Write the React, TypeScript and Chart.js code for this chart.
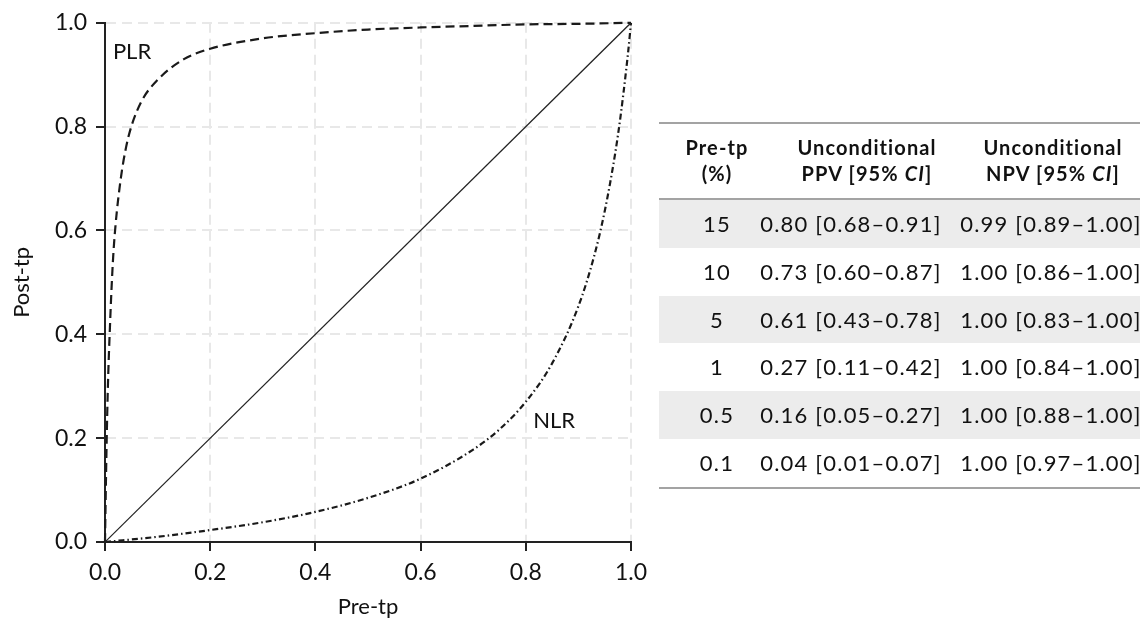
import React, { useEffect, useRef } from 'react';
import { Chart, registerables } from 'chart.js';

Chart.register(...registerables);

// ---- Data ----
const axisTicks = [0, 0.2, 0.4, 0.6, 0.8, 1.0];

const diagPre = [0, 1];
const diagPost = [0, 1];

const plrPre = [0, 0.002, 0.005, 0.01, 0.015, 0.02, 0.03, 0.04, 0.05, 0.07, 0.1, 0.15, 0.2, 0.3, 0.4, 0.5, 0.6, 0.7, 0.8, 0.9, 1.0];
const plrPost = [0, 0.13, 0.28, 0.43, 0.54, 0.61, 0.7, 0.76, 0.8, 0.85, 0.89, 0.93, 0.95, 0.97, 0.98, 0.987, 0.991, 0.994, 0.997, 0.998, 1.0];

const nlrPre = [0, 0.1, 0.2, 0.3, 0.4, 0.5, 0.6, 0.7, 0.75, 0.8, 0.85, 0.9, 0.93, 0.95, 0.97, 0.98, 0.99, 0.995, 1.0];
const nlrPost = [0, 0.01, 0.023, 0.038, 0.058, 0.085, 0.122, 0.178, 0.217, 0.27, 0.344, 0.454, 0.551, 0.637, 0.749, 0.819, 0.902, 0.948, 1.0];

const curveNames = ['PLR', 'NLR'];
const curveLabelAt = [
  { x: 0.015, y: 0.943 },
  { x: 0.814, y: 0.234 },
];

const tableHeadPre = ['Pre-tp', '(%)'];
const tablePre = ['15', '10', '5', '1', '0.5', '0.1'];
const tablePPV = ['0.80 [0.68–0.91]', '0.73 [0.60–0.87]', '0.61 [0.43–0.78]', '0.27 [0.11–0.42]', '0.16 [0.05–0.27]', '0.04 [0.01–0.07]'];
const tableNPV = ['0.99 [0.89–1.00]', '1.00 [0.86–1.00]', '1.00 [0.83–1.00]', '1.00 [0.84–1.00]', '1.00 [0.88–1.00]', '1.00 [0.97–1.00]'];

const FONT = 'Lato, "Open Sans", sans-serif';
const INK = '#111111';

const toPoints = (xs: number[], ys: number[]) => xs.map((x, i) => ({ x, y: ys[i] }));

const labelPlugin = {
  id: 'curveLabels',
  afterDatasetsDraw(chart: any) {
    const { ctx, scales } = chart;
    ctx.save();
    ctx.font = `22px ${FONT}`;
    ctx.fillStyle = INK;
    ctx.textAlign = 'left';
    ctx.textBaseline = 'middle';
    curveNames.forEach((name, i) => {
      ctx.fillText(name, scales.x.getPixelForValue(curveLabelAt[i].x), scales.y.getPixelForValue(curveLabelAt[i].y));
    });
    ctx.restore();
  },
};

function axisCommon(pad: number) {
  return {
    type: 'linear' as const,
    min: 0,
    max: 1,
    afterBuildTicks: (scale: any) => {
      scale.ticks = axisTicks.map((v) => ({ value: v }));
    },
    ticks: {
      padding: pad,
      color: INK,
      font: { family: FONT, size: 23 },
      callback: (v: any) => Number(v).toFixed(1),
      maxRotation: 0,
      autoSkip: false,
    },
    grid: {
      color: '#e8e8e8',
      lineWidth: 2,
      tickColor: '#222',
      tickWidth: 2,
      tickLength: 9,
    },
    border: { color: '#222', width: 2, dash: [10, 6] },
  };
}

function PlotChart() {
  const ref = useRef<HTMLCanvasElement>(null);
  useEffect(() => {
    const chart = new Chart(ref.current as HTMLCanvasElement, {
      type: 'line',
      data: {
        datasets: [
          {
            label: 'Diagonal',
            data: toPoints(diagPre, diagPost),
            borderColor: '#222',
            borderWidth: 1.2,
            pointRadius: 0,
            fill: false,
          },
          {
            label: 'PLR',
            data: toPoints(plrPre, plrPost),
            borderColor: '#1a1a1a',
            borderWidth: 2.2,
            borderDash: [9, 5],
            pointRadius: 0,
            cubicInterpolationMode: 'monotone',
            fill: false,
            clip: 6,
          },
          {
            label: 'NLR',
            data: toPoints(nlrPre, nlrPost),
            borderColor: '#1a1a1a',
            borderWidth: 2.2,
            borderDash: [6, 3, 1.5, 3],
            pointRadius: 0,
            cubicInterpolationMode: 'monotone',
            fill: false,
            clip: 6,
          },
        ] as any,
      },
      options: {
        animation: false,
        responsive: false,
        devicePixelRatio: 1,
        layout: { padding: { left: 0, top: 16, right: 29, bottom: 0 } },
        plugins: { legend: { display: false }, tooltip: { enabled: false } },
        scales: {
          x: {
            ...axisCommon(8),
            afterFit: (s: any) => {
              s.height = 83;
            },
            title: {
              display: true,
              text: 'Pre-tp',
              color: INK,
              font: { family: FONT, size: 22 },
              padding: { top: 0, bottom: 5 },
            },
          },
          y: {
            ...axisCommon(9),
            afterFit: (s: any) => {
              s.width = 105;
            },
            title: {
              display: true,
              text: 'Post-tp',
              color: INK,
              font: { family: FONT, size: 22 },
              padding: { top: 9, bottom: 0 },
            },
          },
        } as any,
      },
      plugins: [labelPlugin],
    });
    return () => chart.destroy();
  }, []);
  return <canvas ref={ref} width={660} height={625} style={{ display: 'block' }} />;
}

const ROW_H = 47.8;
const ROW_TOP = 78;

function Cell(props: { cx: number; top: number; h: number; children: any; bold?: boolean }) {
  return (
    <div
      style={{
        position: 'absolute',
        left: props.cx - 150,
        width: 300,
        top: props.top,
        height: props.h,
        lineHeight: `${props.h}px`,
        textAlign: 'center',
        fontFamily: FONT,
        fontWeight: props.bold ? 700 : 400,
        fontSize: props.bold ? 20 : 22,
        letterSpacing: props.bold ? '1.1px' : '1.2px',
        color: INK,
        whiteSpace: 'nowrap',
      }}
    >
      {props.children}
    </div>
  );
}

function ResultTable() {
  const c1 = 58;
  const c2h = 208;
  const c2d = 192;
  const c3h = 394;
  const c3d = 392;
  return (
    <div style={{ position: 'absolute', left: 659, top: 122, width: 481, height: 370 }}>
      <div style={{ position: 'absolute', left: 0, top: 0, width: 481, height: 2, background: '#a3a3a3' }} />
      <Cell cx={c1} top={12} h={26} bold>{tableHeadPre[0]}</Cell>
      <Cell cx={c1} top={38} h={26} bold>{tableHeadPre[1]}</Cell>
      <Cell cx={c2h} top={12} h={26} bold>Unconditional</Cell>
      <Cell cx={c2h} top={38} h={26} bold>
        PPV [95% <i>CI</i>]
      </Cell>
      <Cell cx={c3h} top={12} h={26} bold>Unconditional</Cell>
      <Cell cx={c3h} top={38} h={26} bold>
        NPV [95% <i>CI</i>]
      </Cell>
      <div style={{ position: 'absolute', left: 0, top: 76, width: 481, height: 2.5, background: '#a3a3a3' }} />
      {tablePre.map((p, i) => (
        <div key={p}>
          {i % 2 === 0 && (
            <div
              style={{
                position: 'absolute',
                left: 0,
                top: ROW_TOP + i * ROW_H,
                width: 481,
                height: ROW_H,
                background: '#ececec',
              }}
            />
          )}
          <Cell cx={c1} top={ROW_TOP + i * ROW_H} h={ROW_H}>{p}</Cell>
          <Cell cx={c2d} top={ROW_TOP + i * ROW_H} h={ROW_H}>{tablePPV[i]}</Cell>
          <Cell cx={c3d} top={ROW_TOP + i * ROW_H} h={ROW_H}>{tableNPV[i]}</Cell>
        </div>
      ))}
      <div style={{ position: 'absolute', left: 0, top: ROW_TOP + 6 * ROW_H + 0.5, width: 481, height: 2, background: '#a3a3a3' }} />
    </div>
  );
}

export default function App() {
  return (
    <div style={{ position: 'absolute', left: 0, top: 0, width: 1143, height: 625, background: '#fff', overflow: 'hidden' }}>
      <div style={{ position: 'absolute', left: 0, top: 0, width: 660, height: 625 }}>
        <PlotChart />
      </div>
      <ResultTable />
    </div>
  );
}
